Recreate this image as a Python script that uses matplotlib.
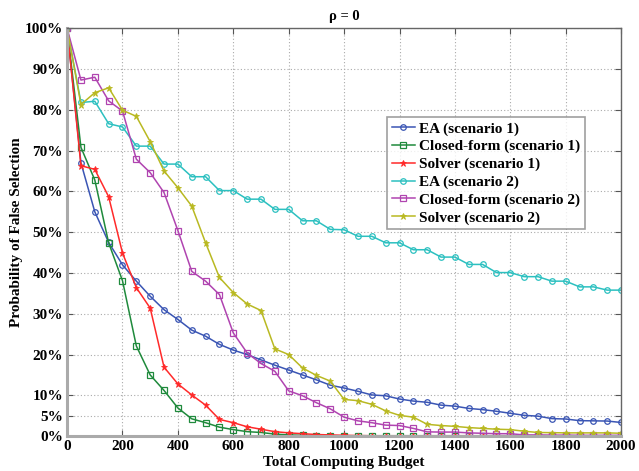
import numpy as np
import matplotlib
matplotlib.use("Agg")
import matplotlib.pyplot as plt

plt.rcParams["font.family"] = ["Liberation Serif", "DejaVu Serif"]
plt.rcParams["font.weight"] = "bold"

# budget axis, one point every 50
budget = np.arange(0, 2001, 50)

ea_s1 = [100, 67, 55, 47.5, 42, 38, 34.3, 31, 28.6, 26, 24.5, 22.5, 21.1, 20, 18.7,
         17.4, 16.2, 15, 13.8, 12.5, 11.8, 11.0, 10.1, 9.9, 9.1, 8.6, 8.3, 7.6, 7.35,
         6.8, 6.5, 6.1, 5.6, 5.1, 4.9, 4.3, 4.2, 3.8, 3.75, 3.7, 3.35]
closed_s1 = [100, 70.8, 62.8, 47.4, 38.1, 22.1, 15.0, 11.2, 6.9, 4.25, 3.3, 2.2, 1.6,
             1.1, 0.9, 0.5, 0.3, 0.2, 0.15, 0.1, 0.1, 0.1, 0.1, 0.1, 0.1, 0.1, 0.1,
             0.1, 0.1, 0.1, 0.1, 0.1, 0.1, 0.1, 0.1, 0.1, 0.1, 0.1, 0.1, 0.1, 0.1]
solver_s1 = [100, 66.3, 65.4, 58.7, 44.9, 36.4, 31.4, 16.9, 12.8, 10.1, 7.6, 4.1, 3.3,
             2.3, 1.7, 1.1, 0.8, 0.6, 0.4, 0.3, 0.2, 0.15, 0.1, 0.1, 0.1, 0.1, 0.1,
             0.1, 0.1, 0.1, 0.1, 0.1, 0.1, 0.1, 0.1, 0.1, 0.1, 0.1, 0.1, 0.1, 0.1]
ea_s2 = [100, 81.8, 82.1, 76.6, 75.8, 71.1, 71.1, 66.7, 66.7, 63.6, 63.6, 60.2, 60.2,
         58.1, 58.1, 55.6, 55.6, 52.8, 52.8, 50.7, 50.6, 49.0, 49.0, 47.4, 47.4, 45.7,
         45.7, 43.9, 43.9, 42.1, 42.1, 40.1, 40.1, 39.1, 39.1, 38.0, 38.0, 36.6, 36.6,
         35.8, 35.8]
closed_s2 = [100, 87.3, 88.0, 82.2, 79.7, 67.9, 64.6, 59.7, 50.4, 40.4, 38.0, 34.7, 25.3,
             20.4, 17.8, 15.9, 11.1, 9.9, 8.2, 6.7, 4.65, 3.75, 3.3, 2.7, 2.6, 1.9, 1.05,
             1.0, 1.0, 0.8, 0.7, 0.6, 0.6, 0.3, 0.3, 0.25, 0.25, 0.2, 0.2, 0.2, 0.2]
solver_s2 = [100, 81.3, 84.2, 85.4, 79.9, 78.4, 72.2, 65.0, 60.9, 56.4, 47.4, 38.9, 35.2,
             32.4, 30.8, 21.4, 20.0, 16.7, 14.9, 13.5, 9.0, 8.7, 7.8, 6.2, 5.1, 4.65, 2.9,
             2.6, 2.4, 2.1, 1.9, 1.7, 1.6, 1.2, 0.9, 0.85, 0.8, 0.8, 0.8, 0.8, 0.7]

series = [
    ("EA (scenario 1)", ea_s1, "#3a55b4", "o"),
    ("Closed-form (scenario 1)", closed_s1, "#1f8a3c", "s"),
    ("Solver (scenario 1)", solver_s1, "#ff2a2a", "*"),
    ("EA (scenario 2)", ea_s2, "#2cc0c0", "o"),
    ("Closed-form (scenario 2)", closed_s2, "#b044b0", "s"),
    ("Solver (scenario 2)", solver_s2, "#b9b922", "*"),
]

yticks = [0, 5, 10, 20, 30, 40, 50, 60, 70, 80, 90, 100]
xticks = np.arange(0, 2001, 200)

fig = plt.figure(figsize=(6.39, 4.71), dpi=100)
ax = fig.add_axes([0.105, 0.074, 0.867, 0.866])

for label, vals, color, mk in series:
    if mk == "*":
        ax.plot(budget, vals, color=color, lw=1.1, marker=mk, ms=4.5,
                markeredgewidth=0.6, label=label)
    else:
        ax.plot(budget, vals, color=color, lw=1.1, marker=mk, ms=4,
                mfc="none", markeredgewidth=0.9, label=label)

ax.set_xlim(0, 2000)
ax.set_ylim(0, 100)
ax.set_xticks(xticks)
ax.set_yticks(yticks)
ax.set_yticklabels([f"{t}%" for t in yticks])
ax.tick_params(direction="in", length=4, labelsize=11, top=True, right=True,
               color="#555555", pad=3)
for lab in ax.get_xticklabels() + ax.get_yticklabels():
    lab.set_fontweight("bold")

ax.grid(True, linestyle=(0, (1, 2)), color="#aaaaaa", lw=0.8)
for side in ["top", "right"]:
    ax.spines[side].set_color("#666666")
    ax.spines[side].set_linewidth(1.0)
for side in ["left", "bottom"]:
    ax.spines[side].set_color("#aaaaaa")
    ax.spines[side].set_linewidth(2.2)

ax.set_title("ρ = 0", fontsize=10.5, fontweight="bold", pad=6)
ax.set_xlabel("Total Computing Budget", fontsize=11, fontweight="bold", labelpad=2)
ax.set_ylabel("Probability of False Selection", fontsize=11, fontweight="bold", labelpad=1)

leg = ax.legend(loc="upper left", bbox_to_anchor=(0.578, 0.782), fontsize=11,
                frameon=True, fancybox=False, handlelength=1.5, handletextpad=0.3,
                borderpad=0.3, labelspacing=0.26, borderaxespad=0)
leg.get_frame().set_edgecolor("#888888")
leg.get_frame().set_linewidth(1.2)
for t in leg.get_texts():
    t.set_fontweight("bold")

fig.savefig("out.png", dpi=100)
